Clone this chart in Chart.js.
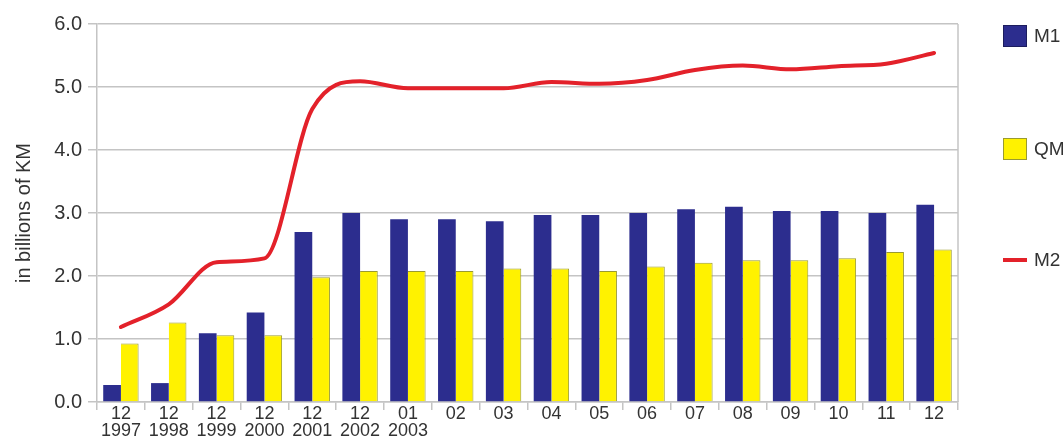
<!DOCTYPE html>
<html>
<head>
<meta charset="utf-8">
<script src="https://cdn.jsdelivr.net/npm/chart.js@4/dist/chart.umd.min.js"></script>
<style>
  html, body { margin: 0; padding: 0; background: #ffffff; }
  #wrap { position: relative; width: 1063px; height: 439px; }
</style>
</head>
<body>
<div id="wrap"><canvas id="c" width="1063" height="439"></canvas></div>
<script>
// Monetary aggregates, in billions of KM
const categories = [
  ['12', '1997'], ['12', '1998'], ['12', '1999'], ['12', '2000'], ['12', '2001'],
  ['12', '2002'], ['01', '2003'], '02', '03', '04', '05', '06', '07', '08', '09', '10', '11', '12'
];
const m1Values = [0.27, 0.30, 1.09, 1.42, 2.70, 3.00, 2.90, 2.90, 2.87, 2.97, 2.97, 3.00, 3.06, 3.10, 3.03, 3.03, 3.00, 3.13];
const qmValues = [0.93, 1.26, 1.06, 1.06, 1.98, 2.08, 2.08, 2.08, 2.12, 2.12, 2.08, 2.15, 2.21, 2.25, 2.25, 2.28, 2.38, 2.42];
const m2Values = [1.19, 1.55, 2.22, 2.28, 4.65, 5.09, 4.98, 4.98, 4.98, 5.08, 5.05, 5.11, 5.27, 5.34, 5.28, 5.33, 5.37, 5.54];
const yTicks = [0, 1, 2, 3, 4, 5, 6];

const FONT = '"Liberation Sans", Arial, sans-serif';
const TEXT = '#333333';
const GRID = '#c4c4c4';

// Legend laid out as a column to the right of the plot
const sideLegend = {
  id: 'sideLegend',
  afterDraw(chart) {
    const ctx = chart.ctx;
    const x0 = chart.chartArea.right + 45;
    const rows = [36, 149, 260];
    ctx.save();
    chart.data.datasets.forEach((ds, i) => {
      const cy = rows[i];
      if (ds.type === 'line') {
        ctx.strokeStyle = ds.borderColor;
        ctx.lineWidth = 4;
        ctx.beginPath();
        ctx.moveTo(x0, cy);
        ctx.lineTo(x0 + 24, cy);
        ctx.stroke();
      } else {
        ctx.fillStyle = ds.backgroundColor;
        ctx.fillRect(x0, cy - 11, 24, 22);
        ctx.strokeStyle = ds.borderColor;
        ctx.lineWidth = 1;
        ctx.strokeRect(x0 + 0.5, cy - 10.5, 23, 21);
      }
      ctx.fillStyle = TEXT;
      ctx.font = '19px ' + FONT;
      ctx.textBaseline = 'middle';
      ctx.textAlign = 'left';
      ctx.fillText(ds.label, x0 + 31, cy + 1);
    });
    ctx.restore();
  }
};

// Right-hand frame line of the plot area
const rightFrame = {
  id: 'rightFrame',
  beforeDatasetsDraw(chart) {
    const { ctx, chartArea } = chart;
    ctx.save();
    ctx.strokeStyle = GRID;
    ctx.lineWidth = 1.5;
    ctx.beginPath();
    ctx.moveTo(chartArea.right, chartArea.top);
    ctx.lineTo(chartArea.right, chartArea.bottom);
    ctx.stroke();
    ctx.restore();
  }
};

new Chart(document.getElementById('c'), {
  type: 'bar',
  data: {
    labels: categories,
    datasets: [
      {
        label: 'M1',
        data: m1Values,
        backgroundColor: '#2c2d8e',
        borderColor: '#1c1d5e',
        borderWidth: 0,
        categoryPercentage: 0.74,
        barPercentage: 1.0,
        order: 2
      },
      {
        label: 'QM',
        data: qmValues,
        backgroundColor: '#fff200',
        borderColor: '#9a9a30',
        borderWidth: { left: 0, top: 1, right: 1, bottom: 0 },
        categoryPercentage: 0.74,
        barPercentage: 1.0,
        order: 2
      },
      {
        type: 'line',
        label: 'M2',
        data: m2Values,
        borderColor: '#e3212a',
        backgroundColor: '#e3212a',
        borderWidth: 4,
        pointRadius: 0,
        cubicInterpolationMode: 'monotone',
        borderCapStyle: 'round',
        fill: false,
        order: 1
      }
    ]
  },
  options: {
    responsive: false,
    animation: false,
    devicePixelRatio: 1,
    layout: { padding: { left: 0, right: 105, top: 24, bottom: 0 } },
    plugins: {
      legend: { display: false },
      tooltip: { enabled: false }
    },
    scales: {
      x: {
        offset: true,
        grid: {
          offset: true,
          drawOnChartArea: false,
          drawTicks: true,
          tickLength: 8,
          color: GRID,
          lineWidth: 1.5
        },
        border: { display: true, color: GRID, width: 1.5 },
        ticks: {
          color: TEXT,
          font: { family: FONT, size: 18, lineHeight: 0.95 },
          padding: -5,
          maxRotation: 0,
          autoSkip: false
        },
        afterFit(scale) { scale.height = 37; }
      },
      y: {
        min: 0,
        max: 6,
        afterBuildTicks(scale) { scale.ticks = yTicks.map(v => ({ value: v })); },
        grid: {
          color: GRID,
          lineWidth: 1.5,
          drawTicks: true,
          tickLength: 9
        },
        border: { display: true, color: GRID, width: 1.5 },
        ticks: {
          color: TEXT,
          font: { family: FONT, size: 20 },
          padding: 6,
          callback: v => v.toFixed(1)
        },
        title: {
          display: true,
          text: 'in billions of KM',
          color: TEXT,
          font: { family: FONT, size: 20 },
          padding: { top: 12, bottom: 0 }
        },
        afterFit(scale) { scale.width = 97; }
      }
    }
  },
  plugins: [rightFrame, sideLegend]
});
</script>
</body>
</html>
